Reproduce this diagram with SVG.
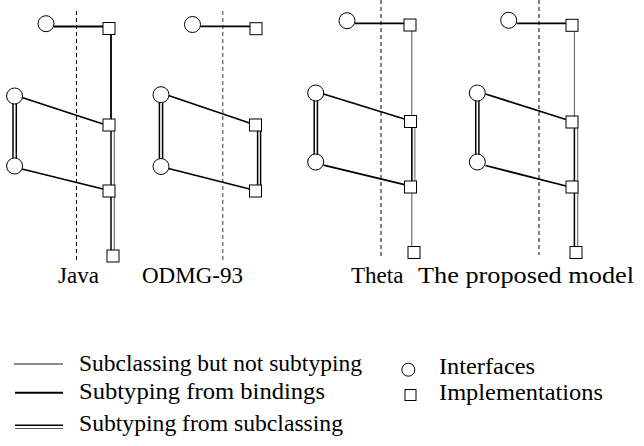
<svg xmlns="http://www.w3.org/2000/svg" width="644" height="446" viewBox="0 0 644 446">
<style>
  .iface { fill: #fff; stroke: #000; stroke-width: 1; }
  .impl { fill: #fff; stroke: #000; stroke-width: 1; }
  .thin { stroke: #555; stroke-width: 1; fill: none; }
  .thick { stroke: #000; stroke-width: 1.8; fill: none; }
  .dbl-a { stroke: #000; stroke-width: 1.5; fill: none; }
  .dbl-b { stroke: #777; stroke-width: 1.2; fill: none; }
  .dash { stroke: #000; stroke-width: 1; stroke-dasharray: 4 3; fill: none; }
  .dashg { stroke: #777; stroke-width: 1.5; stroke-dasharray: 4 3; fill: none; }
  .lbl { font-family: 'Liberation Serif', 'Times New Roman', Times, serif; font-size: 23px; fill: #000; }
</style>
<rect width="644" height="446" fill="#fff"/>

<g id="separators">
  <line class="dash" x1="76.5" y1="11" x2="76.5" y2="261"/>
  <line class="dashg" x1="222.7" y1="11" x2="222.7" y2="262"/>
  <line class="dash" x1="381" y1="0" x2="381" y2="257"/>
  <line class="dash" x1="539" y1="0" x2="539" y2="255"/>
</g>

<g id="connectors">
  <line class="thick" x1="54" y1="26.5" x2="103" y2="26.5"/>
  <line class="thick" x1="111" y1="34.5" x2="111" y2="119"/>
  <line class="dbl-a" x1="111" y1="131" x2="111" y2="250"/>
  <line class="dbl-b" x1="114.3" y1="131" x2="114.3" y2="250"/>
  <line class="thick" x1="22" y1="97.5" x2="103" y2="124"/>
  <line class="thick" x1="22" y1="169" x2="103" y2="189"/>
  <line class="dbl-a" x1="13" y1="104" x2="13" y2="158"/>
  <line class="dbl-a" x1="16.3" y1="104" x2="16.3" y2="158"/>
  <line class="thick" x1="200.5" y1="26.3" x2="250" y2="26.3"/>
  <line class="thick" x1="168.5" y1="95.5" x2="249.5" y2="123"/>
  <line class="thick" x1="168.5" y1="168.5" x2="249.5" y2="189"/>
  <line class="dbl-a" x1="159.4" y1="102.5" x2="159.4" y2="158.5"/>
  <line class="dbl-a" x1="162.6" y1="102.5" x2="162.6" y2="158.5"/>
  <line class="dbl-a" x1="257.6" y1="131" x2="257.6" y2="185"/>
  <line class="dbl-a" x1="260.6" y1="131" x2="260.6" y2="185"/>
  <line class="thick" x1="355" y1="23.3" x2="404" y2="23.3"/>
  <line class="thin" x1="411.8" y1="31" x2="411.8" y2="246.5"/>
  <line class="dbl-a" x1="411.8" y1="127.5" x2="411.8" y2="181"/>
  <line class="dbl-b" x1="414.8" y1="127.5" x2="414.8" y2="181"/>
  <line class="thick" x1="323.5" y1="94" x2="404.5" y2="119"/>
  <line class="thick" x1="323.5" y1="165" x2="404.5" y2="184.5"/>
  <line class="dbl-a" x1="314.2" y1="101" x2="314.2" y2="154"/>
  <line class="dbl-a" x1="317.4" y1="101" x2="317.4" y2="154"/>
  <line class="thick" x1="516.7" y1="23.3" x2="566" y2="23.3"/>
  <line class="thin" x1="574.4" y1="31.3" x2="574.4" y2="116"/>
  <line class="dbl-a" x1="574.4" y1="128" x2="574.4" y2="246.5"/>
  <line class="dbl-b" x1="577.7" y1="128" x2="577.7" y2="246.5"/>
  <line class="thick" x1="485.5" y1="94" x2="566" y2="119.5"/>
  <line class="thick" x1="485.5" y1="165.5" x2="566" y2="186"/>
  <line class="dbl-a" x1="475.7" y1="101" x2="475.7" y2="154"/>
  <line class="dbl-a" x1="478.9" y1="101" x2="478.9" y2="154"/>
</g>

<g id="java-i1"><circle class="iface" cx="46" cy="23.7" r="8"/></g>
<g id="java-m1"><rect class="impl" x="103" y="22.5" width="12" height="12"/></g>
<g id="java-i2"><circle class="iface" cx="14.6" cy="96" r="8"/></g>
<g id="java-i3"><circle class="iface" cx="14.6" cy="166" r="8"/></g>
<g id="java-m2"><rect class="impl" x="103" y="119" width="12" height="12"/></g>
<g id="java-m3"><rect class="impl" x="103" y="185" width="12" height="12"/></g>
<g id="java-m4"><rect class="impl" x="107" y="250" width="12" height="12"/></g>

<g id="odmg-i1"><circle class="iface" cx="192.5" cy="24.5" r="8"/></g>
<g id="odmg-m1"><rect class="impl" x="250" y="22.7" width="12" height="12"/></g>
<g id="odmg-i2"><circle class="iface" cx="161" cy="94.7" r="8"/></g>
<g id="odmg-i3"><circle class="iface" cx="161" cy="166.5" r="8"/></g>
<g id="odmg-m2"><rect class="impl" x="249.5" y="119" width="12" height="12"/></g>
<g id="odmg-m3"><rect class="impl" x="249.5" y="185" width="12" height="12"/></g>

<g id="theta-i1"><circle class="iface" cx="347" cy="20.7" r="8"/></g>
<g id="theta-m1"><rect class="impl" x="404" y="19" width="12" height="12"/></g>
<g id="theta-i2"><circle class="iface" cx="315.7" cy="93" r="8"/></g>
<g id="theta-i3"><circle class="iface" cx="315.7" cy="162" r="8"/></g>
<g id="theta-m2"><rect class="impl" x="404.5" y="115.5" width="12" height="12"/></g>
<g id="theta-m3"><rect class="impl" x="404.5" y="181" width="12" height="12"/></g>
<g id="theta-m4"><rect class="impl" x="408" y="246.5" width="12" height="12"/></g>

<g id="prop-i1"><circle class="iface" cx="508.7" cy="20.3" r="8"/></g>
<g id="prop-m1"><rect class="impl" x="566" y="19.3" width="12" height="12"/></g>
<g id="prop-i2"><circle class="iface" cx="477.3" cy="93" r="8"/></g>
<g id="prop-i3"><circle class="iface" cx="477.3" cy="162" r="8"/></g>
<g id="prop-m2"><rect class="impl" x="566" y="116" width="12" height="12"/></g>
<g id="prop-m3"><rect class="impl" x="566" y="181" width="12" height="12"/></g>
<g id="prop-m4"><rect class="impl" x="570" y="246.5" width="12" height="12"/></g>

<g id="labels">
  <text class="lbl" x="58" y="283">Java</text>
  <text class="lbl" x="142" y="283">ODMG-93</text>
  <text class="lbl" x="351" y="283">Theta</text>
  <text class="lbl" x="418" y="283" textLength="216" lengthAdjust="spacingAndGlyphs">The proposed model</text>
</g>

<g id="legend">
  <line x1="14" y1="364" x2="63" y2="364" stroke="#000" stroke-width="0.9"/>
  <text class="lbl" x="79" y="370.5" textLength="283" lengthAdjust="spacingAndGlyphs">Subclassing but not subtyping</text>
  <line x1="15" y1="392.7" x2="63" y2="392.7" stroke="#000" stroke-width="2"/>
  <text class="lbl" x="79" y="398.5" textLength="246" lengthAdjust="spacingAndGlyphs">Subtyping from bindings</text>
  <line x1="15" y1="425.3" x2="63" y2="425.3" stroke="#000" stroke-width="1.6"/>
  <line x1="15" y1="428.5" x2="63" y2="428.5" stroke="#555" stroke-width="1.2"/>
  <text class="lbl" x="79" y="431" textLength="264" lengthAdjust="spacingAndGlyphs">Subtyping from subclassing</text>
  <circle cx="408.3" cy="369.7" r="6.5" fill="#fff" stroke="#000" stroke-width="1"/>
  <text class="lbl" x="439" y="374" textLength="96" lengthAdjust="spacingAndGlyphs">Interfaces</text>
  <rect x="405" y="389.5" width="11" height="11" fill="#fff" stroke="#000" stroke-width="1"/>
  <text class="lbl" x="439" y="400" textLength="164" lengthAdjust="spacingAndGlyphs">Implementations</text>
</g>
</svg>
